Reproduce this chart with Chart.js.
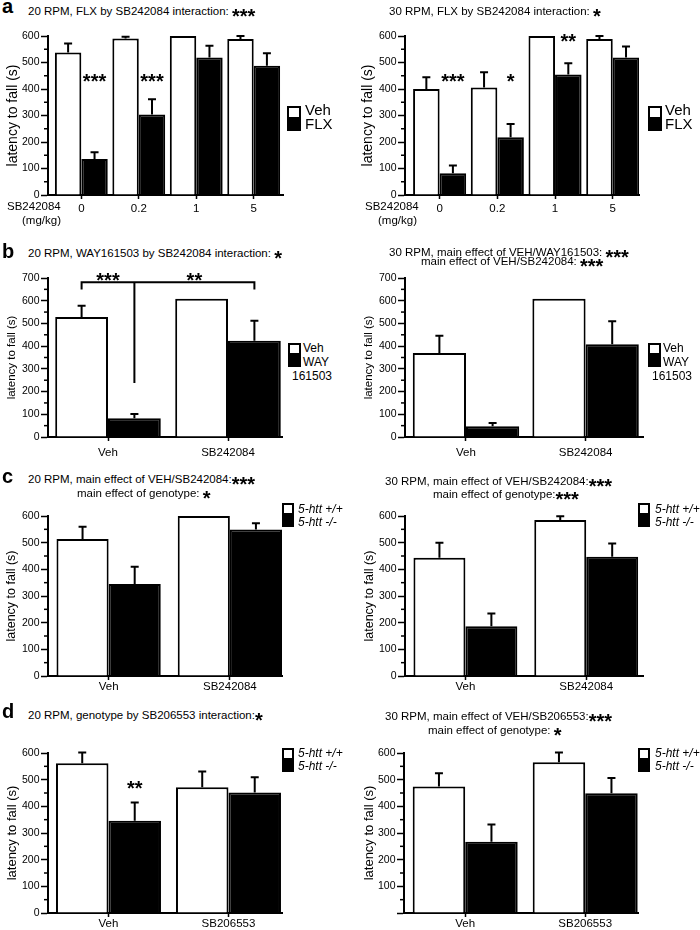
<!DOCTYPE html>
<html>
<head>
<meta charset="utf-8">
<title>Rotarod latency to fall</title>
<script src="https://cdn.jsdelivr.net/npm/chart.js@4.4.1/dist/chart.umd.min.js"></script>
<style>
  body { margin: 0; background: #fff; }
  #fig { position: relative; width: 700px; height: 930px; overflow: hidden;
         font-family: "Liberation Sans", Arial, Helvetica, sans-serif; color: #000; }
  .plot { position: absolute; }
  .txt { position: absolute; white-space: nowrap; line-height: 1; }
  .st { font-weight: bold; font-size: 20px; line-height: 0; position: relative; top: 8px; }
  .key { position: absolute; box-sizing: border-box; border: 2px solid #000; background: #fff; }
  .key.fill { background: #000; }
</style>
</head>
<body>
<div id="fig"></div>
<script>
// ---- data (mean latency, s; err = SEM above the mean) ----
const doseLabels = ['0', '0.2', '1', '5'];
const sb242Labels = ['Veh', 'SB242084'];
const sb206Labels = ['Veh', 'SB206553'];

// a: FLX by SB242084
const a20Veh = [538, 591, 600, 589];
const a20VehErr = [34, 6, 0, 11];
const a20Flx = [136, 304, 519, 488];
const a20FlxErr = [25, 57, 44, 47];
const a30Veh = [400, 406, 600, 589];
const a30VehErr = [44, 57, 0, 11];
const a30Flx = [82, 218, 455, 519];
const a30FlxErr = [29, 50, 42, 41];

// b: WAY161503 by SB242084
const b20Veh = [528, 609];
const b20VehErr = [50, 0];
const b20Way = [82, 424];
const b20WayErr = [19, 88];
const b30Veh = [370, 609];
const b30VehErr = [76, 0];
const b30Way = [47, 408];
const b30WayErr = [15, 102];

// c: genotype by SB242084
const c20Wt = [514, 600];
const c20WtErr = [46, 0];
const c20Ko = [345, 549];
const c20KoErr = [65, 24];
const c30Wt = [443, 585];
const c30WtErr = [57, 14];
const c30Ko = [187, 447];
const c30KoErr = [47, 50];

// d: genotype by SB206553
const d20Wt = [562, 472];
const d20WtErr = [40, 59];
const d20Ko = [346, 452];
const d20KoErr = [68, 57];
const d30Wt = [474, 565];
const d30WtErr = [50, 37];
const d30Ko = [267, 449];
const d30KoErr = [65, 57];

const WHITE = '#fff', BLACK = '#000';
const fig = document.getElementById('fig');

Chart.defaults.font.family = '"Liberation Sans", Arial, Helvetica, sans-serif';
Chart.defaults.color = '#000';

function txt(x, base, html, size, style) {
  const d = document.createElement('div');
  d.className = 'txt';
  d.style.left = x + 'px';
  d.style.top = (base - 0.85 * size) + 'px';
  d.style.fontSize = size + 'px';
  if (style) d.style.cssText += style;
  d.innerHTML = html;
  fig.appendChild(d);
}

function key(x, y, w, h, filled) {
  const d = document.createElement('div');
  d.className = 'key' + (filled ? ' fill' : '');
  Object.assign(d.style, { left: x + 'px', top: y + 'px', width: w + 'px', height: h + 'px' });
  fig.appendChild(d);
}

function makePanel(p) {
  const [ax0, ax1, ayTop, ayBot] = p.axis;
  const L = ax0 - 48, T = ayTop - 12;
  const W = ax1 + 6 - L;
  const B = Math.min(ayBot + 26, 930);
  const H = B - T;

  const wrap = document.createElement('div');
  wrap.className = 'plot';
  Object.assign(wrap.style, { left: L + 'px', top: T + 'px', width: W + 'px', height: H + 'px' });
  const cv = document.createElement('canvas');
  wrap.appendChild(cv);
  fig.appendChild(wrap);

  const datasets = p.series.map(s => ({
    label: s.label,
    data: s.values.map((v, i) => ({ x: i, y: v })),
    errors: s.errors,
    backgroundColor: s.fill,
    borderColor: BLACK,
    borderWidth: 2,
    categoryPercentage: p.catPct,
    barPercentage: 1
  }));

  // error bars, minor ticks, stars and brackets, all placed through the scales
  const extras = {
    id: 'extras' + p.id,
    afterDatasetsDraw(chart) {
      const ctx = chart.ctx, ys = chart.scales.y, area = chart.chartArea;
      const el = (d, i) => chart.getDatasetMeta(d).data[i];
      ctx.save();
      ctx.strokeStyle = BLACK;
      ctx.fillStyle = BLACK;
      ctx.lineWidth = 2;

      chart.data.datasets.forEach((ds, d) => {
        chart.getDatasetMeta(d).data.forEach((bar, i) => {
          const e = ds.errors[i];
          if (!e) return;
          const top = ys.getPixelForValue(ds.data[i].y + e);
          ctx.beginPath();
          ctx.moveTo(bar.x, bar.y);
          ctx.lineTo(bar.x, top);
          ctx.moveTo(bar.x - 4, top);
          ctx.lineTo(bar.x + 4, top);
          ctx.stroke();
        });
      });

      ctx.lineWidth = 1.5;
      for (let v = 50; v < p.yMax; v += 100) {
        const py = ys.getPixelForValue(v);
        ctx.beginPath();
        ctx.moveTo(area.left - 4, py);
        ctx.lineTo(area.left, py);
        ctx.stroke();
      }

      if (p.bracket) {
        const b = p.bracket;
        const x1 = el(...b.from).x, x2 = el(...b.to).x, xm = el(...b.mid).x;
        const yl = ys.getPixelForValue(b.v), yd = ys.getPixelForValue(b.drop), ym = ys.getPixelForValue(b.midTo);
        ctx.lineWidth = 2;
        ctx.beginPath();
        ctx.moveTo(x1, yd); ctx.lineTo(x1, yl); ctx.lineTo(x2, yl); ctx.lineTo(x2, yd);
        ctx.moveTo(xm, yl); ctx.lineTo(xm, ym);
        ctx.stroke();
      }

      ctx.font = 'bold 20px "Liberation Sans", Arial, sans-serif';
      ctx.textAlign = 'center';
      ctx.textBaseline = 'alphabetic';
      (p.stars || []).forEach(s => {
        const x = s.at ? (el(...s.at[0]).x + el(...s.at[1]).x) / 2 : el(s.ds, s.i).x;
        ctx.fillText(s.text, x, ys.getPixelForValue(s.v) + 11.5);
      });
      ctx.restore();
    }
  };

  new Chart(cv, {
    type: 'bar',
    data: { datasets },
    plugins: [extras],
    options: {
      responsive: true,
      maintainAspectRatio: false,
      animation: false,
      events: [],
      layout: { padding: { left: 0, top: ayTop - T, right: L + W - ax1, bottom: 0 } },
      plugins: { legend: { display: false }, tooltip: { enabled: false } },
      scales: {
        x: {
          type: 'linear',
          bounds: 'data',
          min: p.xMin,
          max: p.xMax,
          offset: false,
          afterBuildTicks: s => { s.ticks = p.cats.map((c, i) => ({ value: i })); },
          afterFit: s => { s.height = B - ayBot; },
          ticks: {
            callback: (v, i) => p.cats[i],
            autoSkip: false,
            maxRotation: 0,
            padding: p.xPad,
            font: { size: 11.5 }
          },
          grid: { drawOnChartArea: false, offset: false, tickLength: 4, tickWidth: 1.5, tickColor: BLACK },
          border: { color: BLACK, width: 2 }
        },
        y: {
          min: 0,
          max: p.yMax,
          afterFit: s => { s.width = 48; },
          ticks: {
            stepSize: 100,
            padding: 1.5,
            font: { size: 10.5 },
            callback: v => (p.hideZero && v === 0) ? '' : v
          },
          grid: { drawOnChartArea: false, tickLength: 7, tickWidth: 1.5, tickColor: BLACK },
          border: { color: BLACK, width: 2 },
          title: {
            display: true,
            text: 'latency to fall (s)',
            font: { size: p.yTitleSize },
            padding: { top: p.yTitleX - L - 0.6 * p.yTitleSize, bottom: 0 }
          }
        }
      }
    }
  });
}

const vehFlx = (v, ve, f, fe) => [
  { label: 'Veh', values: v, errors: ve, fill: WHITE },
  { label: 'FLX', values: f, errors: fe, fill: BLACK }
];
const vehWay = (v, ve, w, we) => [
  { label: 'Veh', values: v, errors: ve, fill: WHITE },
  { label: 'WAY 161503', values: w, errors: we, fill: BLACK }
];
const geno = (w, we, k, ke) => [
  { label: '5-htt +/+', values: w, errors: we, fill: WHITE },
  { label: '5-htt -/-', values: k, errors: ke, fill: BLACK }
];

// ---- panel a ----
makePanel({ id: 'a20', axis: [48, 283, 36, 195], cats: doseLabels, xMin: -0.58, xMax: 3.51,
  yMax: 600, catPct: 0.92, yTitleSize: 14, yTitleX: 12.7, xPad: 2.5,
  series: vehFlx(a20Veh, a20VehErr, a20Flx, a20FlxErr),
  stars: [{ ds: 1, i: 0, v: 449, text: '***' }, { ds: 1, i: 1, v: 449, text: '***' }] });
makePanel({ id: 'a30', axis: [405, 639, 36, 195], cats: doseLabels, xMin: -0.6, xMax: 3.455,
  yMax: 600, catPct: 0.92, yTitleSize: 14, yTitleX: 368, xPad: 2.5,
  series: vehFlx(a30Veh, a30VehErr, a30Flx, a30FlxErr),
  stars: [{ ds: 1, i: 0, v: 449, text: '***' }, { ds: 1, i: 1, v: 449, text: '*' }, { ds: 1, i: 2, v: 600, text: '**' }] });

// ---- panel b ----
makePanel({ id: 'b20', axis: [48, 282, 278, 437], cats: sb242Labels, xMin: -0.5, xMax: 1.45,
  yMax: 700, catPct: 0.88, yTitleSize: 11.5, yTitleX: 12, xPad: 4.5,
  series: vehWay(b20Veh, b20VehErr, b20Way, b20WayErr),
  bracket: { from: [0, 0], to: [1, 1], mid: [1, 0], v: 681, drop: 649, midTo: 238 },
  stars: [{ at: [[0, 0], [1, 0]], v: 710, text: '***' }, { at: [[1, 0], [1, 1]], v: 710, text: '**' }] });
makePanel({ id: 'b30', axis: [405, 643, 278, 437], cats: sb242Labels, xMin: -0.51, xMax: 1.48,
  yMax: 700, catPct: 0.89, yTitleSize: 11.5, yTitleX: 369, xPad: 4.5,
  series: vehWay(b30Veh, b30VehErr, b30Way, b30WayErr) });

// ---- panel c ----
makePanel({ id: 'c20', axis: [48, 282, 516, 676], cats: sb242Labels, xMin: -0.5, xMax: 1.43,
  yMax: 600, catPct: 0.86, yTitleSize: 12.5, yTitleX: 12, xPad: 0,
  series: geno(c20Wt, c20WtErr, c20Ko, c20KoErr) });
makePanel({ id: 'c30', axis: [405, 643, 516, 676], cats: sb242Labels, xMin: -0.5, xMax: 1.47,
  yMax: 600, catPct: 0.86, yTitleSize: 12.5, yTitleX: 370, xPad: 0,
  series: geno(c30Wt, c30WtErr, c30Ko, c30KoErr) });

// ---- panel d ----
makePanel({ id: 'd20', axis: [48, 282, 753, 913], cats: sb206Labels, xMin: -0.504, xMax: 1.446,
  yMax: 600, catPct: 0.875, yTitleSize: 13, yTitleX: 12, xPad: 0,
  series: geno(d20Wt, d20WtErr, d20Ko, d20KoErr),
  stars: [{ ds: 1, i: 0, v: 487, text: '**' }] });
makePanel({ id: 'd30', axis: [404, 638, 753, 913], cats: sb206Labels, xMin: -0.51, xMax: 1.44,
  yMax: 600, catPct: 0.875, yTitleSize: 13, yTitleX: 369, xPad: 0, hideZero: true,
  series: geno(d30Wt, d30WtErr, d30Ko, d30KoErr) });

// ---- panel letters and titles ----
const S = n => '<span class="st">' + '*'.repeat(n) + '</span>';
const LETTER = 'font-weight:bold;';
txt(2, 13, 'a', 20, LETTER);
txt(2, 258, 'b', 20, LETTER);
txt(2, 483, 'c', 20, LETTER);
txt(2, 718, 'd', 20, LETTER);

txt(28, 16, '20 RPM, FLX by SB242084 interaction: ' + S(3), 11.5);
txt(389, 16, '30 RPM, FLX by SB242084 interaction: ' + S(1), 11.5);
txt(28, 258, '20 RPM, WAY161503 by SB242084 interaction: ' + S(1), 11.5);
txt(389, 256.5, '30 RPM, main effect of VEH/WAY161503: ' + S(3), 11.5);
txt(421, 266, 'main effect of VEH/SB242084: ' + S(3), 11.5);
txt(28, 483.5, '20 RPM, main effect of VEH/SB242084:' + S(3), 11.5);
txt(77, 497.5, 'main effect of genotype: ' + S(1), 11.5);
txt(385, 486, '30 RPM, main effect of VEH/SB242084:' + S(3), 11.5);
txt(433, 498.5, 'main effect of genotype:' + S(3), 11.5);
txt(28, 719.5, '20 RPM, genotype by SB206553 interaction:' + S(1), 11.5);
txt(385, 721, '30 RPM, main effect of VEH/SB206553:' + S(3), 11.5);
txt(428, 735, 'main effect of genotype: ' + S(1), 11.5);

// dose axis captions for panel a
txt(7, 211, 'SB242084', 11.5);
txt(22, 224.5, '(mg/kg)', 11.5);
txt(365, 211, 'SB242084', 11.5);
txt(378, 224.5, '(mg/kg)', 11.5);

// ---- legends ----
[[287, 305], [648, 665]].forEach(([bx, tx]) => {
  key(bx, 106, 14, 13, false); key(bx, 119, 14, 12, true);
  txt(tx, 115, 'Veh', 15); txt(tx, 129, 'FLX', 15);
});
[[288, 303], [648, 663]].forEach(([bx, tx]) => {
  key(bx, 343, 13, 12, false); key(bx, 355, 13, 12, true);
  txt(tx, 352.5, 'Veh', 12); txt(tx, 366.5, 'WAY', 12); txt(bx + 4, 380.5, '161503', 12);
});
[[282, 298], [638, 655]].forEach(([bx, tx]) => {
  key(bx, 503, 12, 12, false); key(bx, 515, 12, 12, true);
  txt(tx, 513.5, '5-htt +/+', 12, 'font-style:italic;'); txt(tx, 526, '5-htt -/-', 12, 'font-style:italic;');
  key(bx, 748, 12, 12, false); key(bx, 760, 12, 12, true);
  txt(tx, 757.5, '5-htt +/+', 12, 'font-style:italic;'); txt(tx, 770, '5-htt -/-', 12, 'font-style:italic;');
});
</script>
</body>
</html>
